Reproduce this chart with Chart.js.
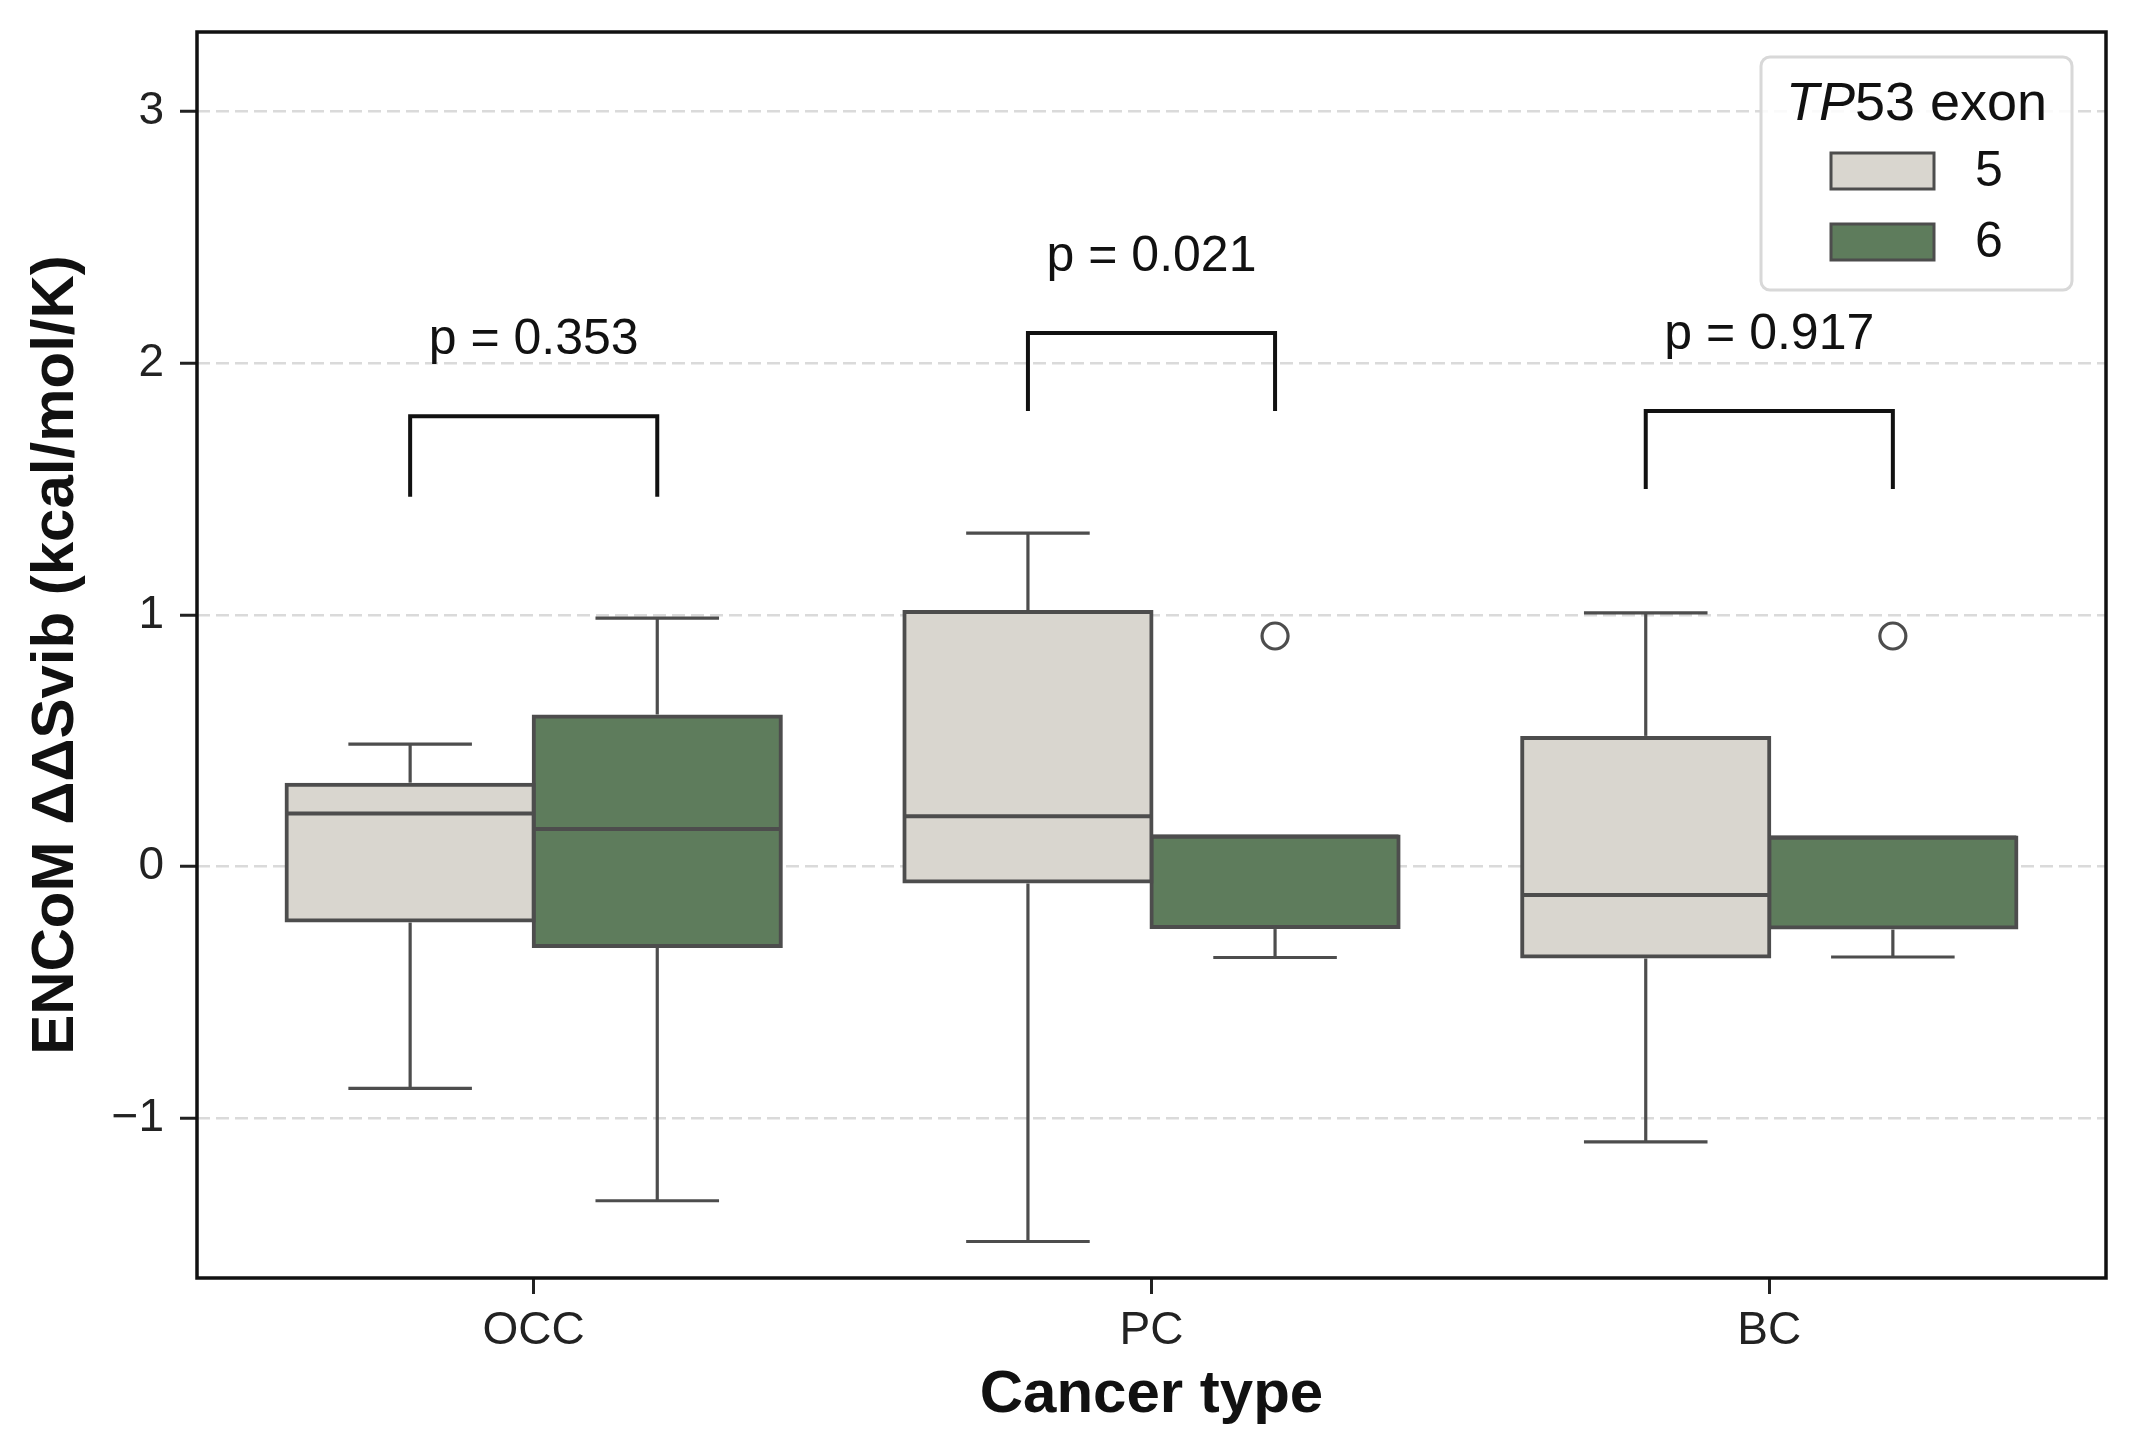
<!DOCTYPE html>
<html>
<head>
<meta charset="utf-8">
<script src="https://cdn.jsdelivr.net/npm/chart.js@4.4.1/dist/chart.umd.min.js"></script>
<style>
  html, body { margin: 0; padding: 0; background: #fff; }
  canvas { display: block; }
</style>
</head>
<body>
<canvas id="chart" width="2135" height="1455"></canvas>
<script>
// ─── Data ─────────────────────────────────────────────────────────────
const categories = ["OCC", "PC", "BC"];
const exonLabels = ["5", "6"];

// TP53 exon 5
const exon5Low  = [-0.882, -1.491, -1.095];
const exon5Q1   = [-0.215, -0.060, -0.358];
const exon5Med  = [ 0.210,  0.200, -0.114];
const exon5Q3   = [ 0.325,  1.011,  0.511];
const exon5High = [ 0.486,  1.325,  1.008];
const exon5Outliers = [[], [], []];

// TP53 exon 6
const exon6Low  = [-1.329, -0.362, -0.360];
const exon6Q1   = [-0.316, -0.241, -0.243];
const exon6Med  = [ 0.149,  0.119,  0.115];
const exon6Q3   = [ 0.596,  0.119,  0.115];
const exon6High = [ 0.987,  0.119,  0.115];
const exon6Outliers = [[], [0.916], [0.916]];

// significance brackets (y in data units)
const pValues     = ["0.353", "0.021", "0.917"];
const bracketBase = [1.47, 1.81, 1.50];
const bracketTop  = [1.79, 2.12, 1.81];

// ─── Styling ──────────────────────────────────────────────────────────
const FONT  = '"Liberation Sans", Arial, Helvetica, sans-serif';
const EDGE  = "#4d4d4d";
const FILLS = ["#d9d6cf", "#5e7c5c"];
const INK   = "#111111";

const boxStats = [
  { low: exon5Low, q1: exon5Q1, med: exon5Med, q3: exon5Q3, high: exon5High, outliers: exon5Outliers },
  { low: exon6Low, q1: exon6Q1, med: exon6Med, q3: exon6Q3, high: exon6High, outliers: exon6Outliers },
];

function line(ctx, x1, y1, x2, y2) {
  ctx.beginPath();
  ctx.moveTo(x1, y1);
  ctx.lineTo(x2, y2);
  ctx.stroke();
}

// whiskers, caps, medians, fliers
const boxPlugin = {
  id: "boxExtras",
  afterDatasetsDraw(chart) {
    const { ctx } = chart;
    const y = chart.scales.y;
    boxStats.forEach((st, di) => {
      chart.getDatasetMeta(di).data.forEach((bar, i) => {
        const x = bar.x;
        const half = bar.width / 2;
        const pLow = y.getPixelForValue(st.low[i]);
        const pQ1 = y.getPixelForValue(st.q1[i]);
        const pMed = y.getPixelForValue(st.med[i]);
        const pQ3 = y.getPixelForValue(st.q3[i]);
        const pHigh = y.getPixelForValue(st.high[i]);
        ctx.save();
        ctx.strokeStyle = EDGE;
        ctx.lineWidth = 3.2;
        if (st.high[i] > st.q3[i]) {
          line(ctx, x, pQ3 - 2, x, pHigh);
          line(ctx, x - half / 2, pHigh, x + half / 2, pHigh);
        }
        if (st.low[i] < st.q1[i]) {
          line(ctx, x, pQ1 + 2, x, pLow);
          line(ctx, x - half / 2, pLow, x + half / 2, pLow);
        }
        ctx.lineWidth = 4;
        line(ctx, x - half, pMed, x + half, pMed);
        ctx.lineWidth = 3.2;
        st.outliers[i].forEach((v) => {
          ctx.beginPath();
          ctx.arc(x, y.getPixelForValue(v), 13, 0, Math.PI * 2);
          ctx.fillStyle = "#fff";
          ctx.fill();
          ctx.stroke();
        });
        ctx.restore();
      });
    });
  },
  afterDraw(chart) {
    const { ctx, chartArea } = chart;
    const y = chart.scales.y;

    // brackets + p-values
    categories.forEach((c, i) => {
      const b0 = chart.getDatasetMeta(0).data[i];
      const b1 = chart.getDatasetMeta(1).data[i];
      const yb = y.getPixelForValue(bracketBase[i]);
      const yt = y.getPixelForValue(bracketTop[i]);
      ctx.save();
      ctx.strokeStyle = "#111";
      ctx.lineWidth = 4;
      ctx.beginPath();
      ctx.moveTo(b0.x, yb);
      ctx.lineTo(b0.x, yt);
      ctx.lineTo(b1.x, yt);
      ctx.lineTo(b1.x, yb);
      ctx.stroke();
      ctx.fillStyle = "#111";
      ctx.font = `50px ${FONT}`;
      ctx.textAlign = "center";
      ctx.textBaseline = "alphabetic";
      ctx.fillText("p = " + pValues[i], (b0.x + b1.x) / 2, yt - 62);
      ctx.restore();
    });

    // frame
    ctx.save();
    ctx.strokeStyle = INK;
    ctx.lineWidth = 3.5;
    ctx.strokeRect(chartArea.left, chartArea.top, chartArea.right - chartArea.left, chartArea.bottom - chartArea.top);
    ctx.restore();

    drawLegend(chart);
  },
};

function drawLegend(chart) {
  const { ctx, chartArea } = chart;
  const w = 311, h = 233;
  const left = chartArea.right - 34 - w;
  const top = chartArea.top + 25;
  ctx.save();
  ctx.beginPath();
  ctx.roundRect(left, top, w, h, 9);
  ctx.fillStyle = "rgba(255,255,255,0.85)";
  ctx.fill();
  ctx.strokeStyle = "#d8d8d8";
  ctx.lineWidth = 3;
  ctx.stroke();

  // title: italic gene name
  ctx.fillStyle = "#111";
  ctx.textBaseline = "alphabetic";
  ctx.font = `italic 54px ${FONT}`;
  const wTp = ctx.measureText("TP").width;
  ctx.font = `54px ${FONT}`;
  const wRest = ctx.measureText("53 exon").width;
  const tx = left + w / 2 - (wTp + wRest) / 2;
  ctx.font = `italic 54px ${FONT}`;
  ctx.fillText("TP", tx, top + 63);
  ctx.font = `54px ${FONT}`;
  ctx.fillText("53 exon", tx + wTp, top + 63);

  exonLabels.forEach((lab, i) => {
    const py = top + 96 + i * 71;
    ctx.fillStyle = FILLS[i];
    ctx.fillRect(left + 70, py, 103, 36);
    ctx.strokeStyle = EDGE;
    ctx.lineWidth = 3;
    ctx.strokeRect(left + 70, py, 103, 36);
    ctx.fillStyle = "#111";
    ctx.font = `50px ${FONT}`;
    ctx.textBaseline = "middle";
    ctx.fillText(lab, left + 214, py + 19);
  });
  ctx.restore();
}

// ─── Chart ────────────────────────────────────────────────────────────
const tickFont = { family: FONT, size: 46 };
const titleFont = { family: FONT, size: 60, weight: "bold" };

new Chart(document.getElementById("chart").getContext("2d"), {
  type: "bar",
  data: {
    datasets: exonLabels.map((lab, di) => ({
      label: lab,
      data: categories.map((c, i) => ({ x: i, y: [boxStats[di].q1[i], boxStats[di].q3[i]] })),
      backgroundColor: FILLS[di],
      borderColor: EDGE,
      borderWidth: 4,
      borderSkipped: false,
      inflateAmount: 2,
      categoryPercentage: 0.8,
      barPercentage: 1.0,
    })),
  },
  options: {
    responsive: false,
    devicePixelRatio: 1,
    animation: false,
    layout: { padding: { top: 32, right: 29, left: 0, bottom: 0 } },
    plugins: {
      legend: { display: false },
      tooltip: { enabled: false },
    },
    scales: {
      x: {
        type: "linear",
        min: -0.545,
        max: 2.545,
        offset: false,
        afterFit: (s) => { s.height = 177; s.paddingLeft = 0; s.paddingRight = 0; },
        ticks: {
          stepSize: 1,
          includeBounds: false,
          autoSkip: false,
          maxRotation: 0,
          callback: (v) => categories[v] ?? "",
          color: "#222",
          font: tickFont,
          padding: 10,
        },
        grid: {
          offset: false,
          drawOnChartArea: false,
          drawTicks: true,
          tickLength: 16,
          tickColor: "#222",
          tickWidth: 3,
        },
        border: { display: false },
        title: {
          display: true,
          text: "Cancer type",
          color: "#111",
          font: titleFont,
          padding: { top: 0, bottom: 24 },
        },
      },
      y: {
        min: -1.636,
        max: 3.317,
        afterFit: (s) => { s.width = 197; s.paddingTop = 0; s.paddingBottom = 0; },
        ticks: {
          stepSize: 1,
          includeBounds: false,
          callback: (v) => String(v).replace("-", "\u2212"),
          color: "#222",
          font: tickFont,
          padding: 16,
        },
        grid: {
          color: "#dadada",
          lineWidth: 2.5,
          drawTicks: true,
          tickLength: 17,
          tickColor: "#222",
          tickWidth: 3,
          tickBorderDash: [],
        },
        border: { display: false, dash: [13, 6] },
        title: {
          display: true,
          text: "ENCoM \u0394\u0394Svib (kcal/mol/K)",
          color: "#111",
          font: titleFont,
          padding: { top: 20, bottom: 0 },
        },
      },
    },
  },
  plugins: [boxPlugin],
});
</script>
</body>
</html>
